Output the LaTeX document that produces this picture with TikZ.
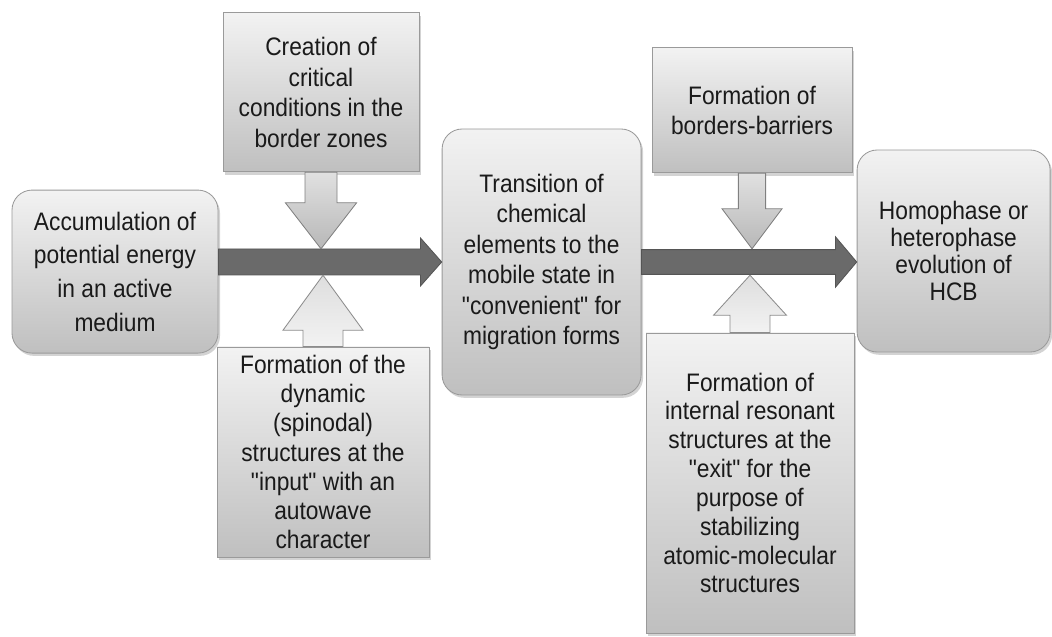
\documentclass[tikz,border=0pt]{standalone}
\usepackage{fontspec}
\setmainfont{Liberation Sans}[FakeStretch=0.9,Ligatures=TeXOff]
\usepackage{tikz}
\usetikzlibrary{calc,shadows}
\definecolor{ink}{HTML}{1A1A1A}
\definecolor{edge}{HTML}{9A9A9A}
\definecolor{shaft}{HTML}{6A6A6A}
\definecolor{shaftedge}{HTML}{555555}
\tikzset{
  box/.style={draw=edge,line width=.6pt,top color=black!5,bottom color=black!25,
    drop shadow={shadow xshift=.05cm,shadow yshift=-.07cm,opacity=.35},
    align=center,text=ink,inner sep=2pt},
  rbox/.style={box,rounded corners=.5cm},
  flow/.style={draw=shaftedge,fill=shaft,line width=.6pt},
  push/.style={draw=black!50,top color=black!12,bottom color=black!28,line width=.6pt},
  lift/.style={draw=black!45,top color=black!13,bottom color=black!5,line width=.6pt},
}
% block arrow: style, tail, tip, half shaft, half head, head length
\newcommand{\blockarrow}[6]{%
  \coordinate (hb) at ($(#3)!#6!(#2)$);
  \draw[#1] ($(#2)!#4!90:(#3)$) -- ($(hb)!#4!90:(#3)$) -- ($(hb)!#5!90:(#3)$) -- (#3)
    -- ($(hb)!#5!-90:(#3)$) -- ($(hb)!#4!-90:(#3)$) -- ($(#2)!#4!-90:(#3)$) -- cycle;}

\begin{document}
\begin{tikzpicture}
\useasboundingbox (0,0) rectangle (26.3,15.9);
% main chain
\node[rbox,minimum width=5.15cm,minimum height=4.075cm,font=\fontsize{18}{24}\selectfont] (acc) at (2.875,9.11)
  {Accumulation of\\potential energy\\in an active\\medium};
\node[rbox,minimum width=4.975cm,minimum height=6.65cm,font=\fontsize{18}{21.6}\selectfont] (trans) at (13.54,9.35)
  {Transition of\\chemical\\elements to the\\mobile state in\\"convenient" for\\migration forms};
\node[rbox,minimum width=4.825cm,minimum height=5.05cm,font=\fontsize{18}{19}\selectfont] (homo) at (23.84,9.625)
  {Homophase or\\heterophase\\evolution of\\HCB};
% side conditions
\node[box,minimum width=4.9cm,minimum height=3.975cm,font=\fontsize{18}{21.8}\selectfont] (crit) at (8.025,13.59)
  {Creation of\\critical\\conditions in the\\border zones};
\node[box,minimum width=5.3cm,minimum height=5.25cm,font=\fontsize{18}{20.8}\selectfont] (spin) at (8.075,4.6)
  {Formation of the\\dynamic\\(spinodal)\\structures at the\\"input" with an\\autowave\\character};
\node[box,minimum width=5cm,minimum height=3.125cm,font=\fontsize{18}{21.3}\selectfont] (barr) at (18.8,13.14)
  {Formation of\\borders-barriers};
\node[box,minimum width=5.2cm,minimum height=7.5cm,font=\fontsize{18}{20.5}\selectfont] (reso) at (18.75,3.825)
  {Formation of\\internal resonant\\structures at the\\"exit" for the\\purpose of\\stabilizing\\atomic-molecular\\structures};
% tips on the main arrows
\coordinate (a1) at (acc.east |- trans.west);
\coordinate (a2) at (trans.east -| homo.west);
\coordinate (t1) at ($(crit.south |- trans.west)+(0,.33)$);
\coordinate (b1) at ($(spin.north |- trans.west)-(0,.33)$);
\coordinate (t2) at ($(barr.south |- trans.east)+(0,.33)$);
\coordinate (b2) at ($(reso.north |- trans.east)-(0,.33)$);
\blockarrow{flow}{a1}{trans.west}{.325cm}{.6cm}{.53cm}
\blockarrow{flow}{trans.east}{a2}{.31cm}{.63cm}{.53cm}
\blockarrow{push}{crit.south}{t1}{.4cm}{.89cm}{1.15cm}
\blockarrow{lift}{spin.north}{b1}{.5cm}{1cm}{1.375cm}
\blockarrow{push}{barr.south}{t2}{.34cm}{.75cm}{1cm}
\blockarrow{lift}{reso.north}{b2}{.5cm}{.91cm}{1cm}
\end{tikzpicture}
\end{document}
